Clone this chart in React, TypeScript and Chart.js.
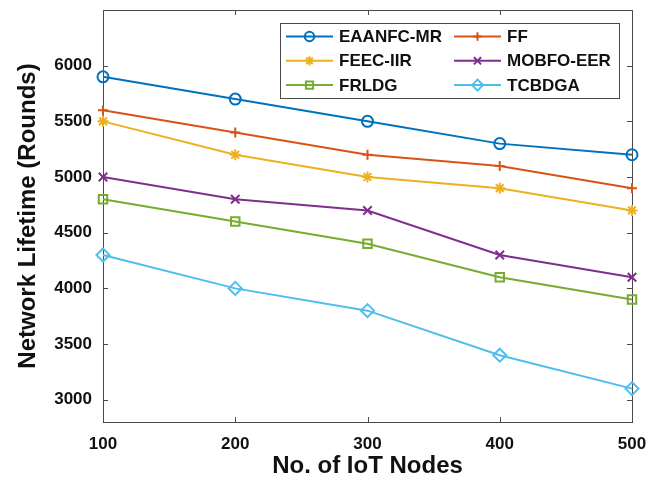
import React, { useEffect, useRef } from 'react';
import { Chart, registerables } from 'chart.js';
import { drawPoint } from 'chart.js/helpers';

Chart.register(...registerables);

const nodes = [100, 200, 300, 400, 500];
const eaanfcMr = [5900, 5700, 5500, 5300, 5200];
const ff = [5600, 5400, 5200, 5100, 4900];
const feecIir = [5500, 5200, 5000, 4900, 4700];
const mobfoEer = [5000, 4800, 4700, 4300, 4100];
const frldg = [4800, 4600, 4400, 4100, 3900];
const tcbdga = [4300, 4000, 3800, 3400, 3100];
const yTicks = [3000, 3500, 4000, 4500, 5000, 5500, 6000];
const xTicks = [100, 200, 300, 400, 500];

const FONT = '"Liberation Sans", Arial, sans-serif';
const AXIS_COLOR = '#4a4a4a';
const TEXT_COLOR = '#111111';

const seriesDefs = [
  { label: 'EAANFC-MR', values: eaanfcMr, color: '#0072BD', style: 'circle', radius: 5.5 },
  { label: 'FF', values: ff, color: '#D95319', style: 'cross', radius: 5 },
  { label: 'FEEC-IIR', values: feecIir, color: '#EDB120', style: 'star', radius: 5.5 },
  { label: 'MOBFO-EER', values: mobfoEer, color: '#7E2F8E', style: 'crossRot', radius: 6 },
  { label: 'FRLDG', values: frldg, color: '#77AC30', style: 'rect', radius: 6 },
  { label: 'TCBDGA', values: tcbdga, color: '#4DBEEE', style: 'rectRot', radius: 6.5 },
];

const boxPlugin = {
  id: 'matlabBox',
  beforeDatasetsDraw(chart: any) {
    const { ctx, chartArea: ca } = chart;
    const xs = chart.scales.x;
    const ys = chart.scales.y;
    const tl = 5;
    ctx.save();
    ctx.strokeStyle = AXIS_COLOR;
    ctx.lineWidth = 1;
    ctx.strokeRect(Math.round(ca.left) + 0.5, Math.round(ca.top) + 0.5, Math.round(ca.right - ca.left), Math.round(ca.bottom - ca.top));
    ctx.beginPath();
    xTicks.forEach((v) => {
      const px = Math.round(xs.getPixelForValue(v)) + 0.5;
      ctx.moveTo(px, ca.bottom);
      ctx.lineTo(px, ca.bottom - tl);
      ctx.moveTo(px, ca.top);
      ctx.lineTo(px, ca.top + tl);
    });
    yTicks.forEach((v) => {
      const py = Math.round(ys.getPixelForValue(v)) + 0.5;
      ctx.moveTo(ca.left, py);
      ctx.lineTo(ca.left + tl, py);
      ctx.moveTo(ca.right, py);
      ctx.lineTo(ca.right - tl, py);
    });
    ctx.stroke();
    ctx.restore();
  },
};

const legendPlugin = {
  id: 'matlabLegend',
  afterDraw(chart: any) {
    const { ctx, chartArea: ca } = chart;
    const boxW = 339;
    const boxH = 75;
    const bx = Math.round(ca.right - 13 - boxW);
    const by = Math.round(ca.top + 13);
    ctx.save();
    ctx.fillStyle = '#ffffff';
    ctx.fillRect(bx, by, boxW, boxH);
    ctx.strokeStyle = AXIS_COLOR;
    ctx.lineWidth = 1;
    ctx.strokeRect(bx + 0.5, by + 0.5, boxW, boxH);
    chart.data.datasets.forEach((ds: any, i: number) => {
      const col = i % 2;
      const row = Math.floor(i / 2);
      const lx = bx + 6 + col * 168;
      const ly = by + 13.5 + row * 24.3;
      ctx.strokeStyle = ds.borderColor;
      ctx.lineWidth = 2;
      ctx.beginPath();
      ctx.moveTo(lx, ly);
      ctx.lineTo(lx + 47, ly);
      ctx.stroke();
      ctx.fillStyle = 'rgba(0,0,0,0)';
      ctx.strokeStyle = ds.borderColor;
      drawPoint(ctx, {
        pointStyle: ds.pointStyle,
        radius: ds.pointRadius * 0.85,
        rotation: 0,
        borderWidth: 2,
      } as any, lx + 23.5, ly);
      ctx.fillStyle = TEXT_COLOR;
      ctx.font = `bold 17px ${FONT}`;
      ctx.textBaseline = 'middle';
      ctx.textAlign = 'left';
      ctx.fillText(ds.label, lx + 53, ly + 1);
    });
    ctx.restore();
  },
};

export default function App() {
  const canvasRef = useRef<HTMLCanvasElement | null>(null);

  useEffect(() => {
    document.body.style.margin = '0';
    const canvas = canvasRef.current;
    if (!canvas) return;
    const chart = new Chart(canvas, {
      type: 'line',
      data: {
        datasets: seriesDefs.map((s) => ({
          label: s.label,
          data: nodes.map((n, i) => ({ x: n, y: s.values[i] })),
          borderColor: s.color,
          backgroundColor: 'rgba(0,0,0,0)',
          borderWidth: 2,
          pointStyle: s.style as any,
          pointRadius: s.radius,
          pointBorderColor: s.color,
          pointBackgroundColor: 'rgba(0,0,0,0)',
          pointBorderWidth: 2,
          tension: 0,
          clip: false as any,
        })),
      },
      options: {
        animation: false,
        responsive: true,
        maintainAspectRatio: false,
        layout: { padding: { top: 10, right: 16, left: 0, bottom: 0 } },
        plugins: {
          legend: { display: false },
          tooltip: { enabled: false },
        },
        scales: {
          x: {
            type: 'linear',
            min: 100,
            max: 500,
            grid: { display: false, drawTicks: false },
            border: { display: false },
            afterBuildTicks: (scale: any) => {
              scale.ticks = xTicks.map((v) => ({ value: v }));
            },
            afterFit: (scale: any) => {
              scale.height = 62;
              scale.paddingLeft = 0;
              scale.paddingRight = 0;
            },
            ticks: {
              color: TEXT_COLOR,
              font: { family: FONT, size: 17, weight: 'bold' },
              padding: 12,
              maxRotation: 0,
              callback: (v: any) => String(v),
            },
            title: {
              display: true,
              text: 'No. of IoT Nodes',
              color: TEXT_COLOR,
              font: { family: FONT, size: 24, weight: 'bold' },
              padding: { top: 0, bottom: 3 },
            },
          },
          y: {
            type: 'linear',
            min: 2800,
            max: 6500,
            grid: { display: false, drawTicks: false },
            border: { display: false },
            afterBuildTicks: (scale: any) => {
              scale.ticks = yTicks.map((v) => ({ value: v }));
            },
            afterFit: (scale: any) => {
              scale.width = 103;
              scale.paddingTop = 0;
              scale.paddingBottom = 0;
            },
            ticks: {
              color: TEXT_COLOR,
              font: { family: FONT, size: 17, weight: 'bold' },
              padding: 11,
              callback: (v: any) => String(v),
            },
            title: {
              display: true,
              text: 'Network Lifetime (Rounds)',
              color: TEXT_COLOR,
              font: { family: FONT, size: 24, weight: 'bold' },
              padding: { top: 14, bottom: 0 },
            },
          },
        },
      },
      plugins: [boxPlugin, legendPlugin],
    });
    return () => chart.destroy();
  }, []);

  return (
    <div style={{ width: 648, height: 484, position: 'relative', background: '#fff' }}>
      <canvas ref={canvasRef} />
    </div>
  );
}
